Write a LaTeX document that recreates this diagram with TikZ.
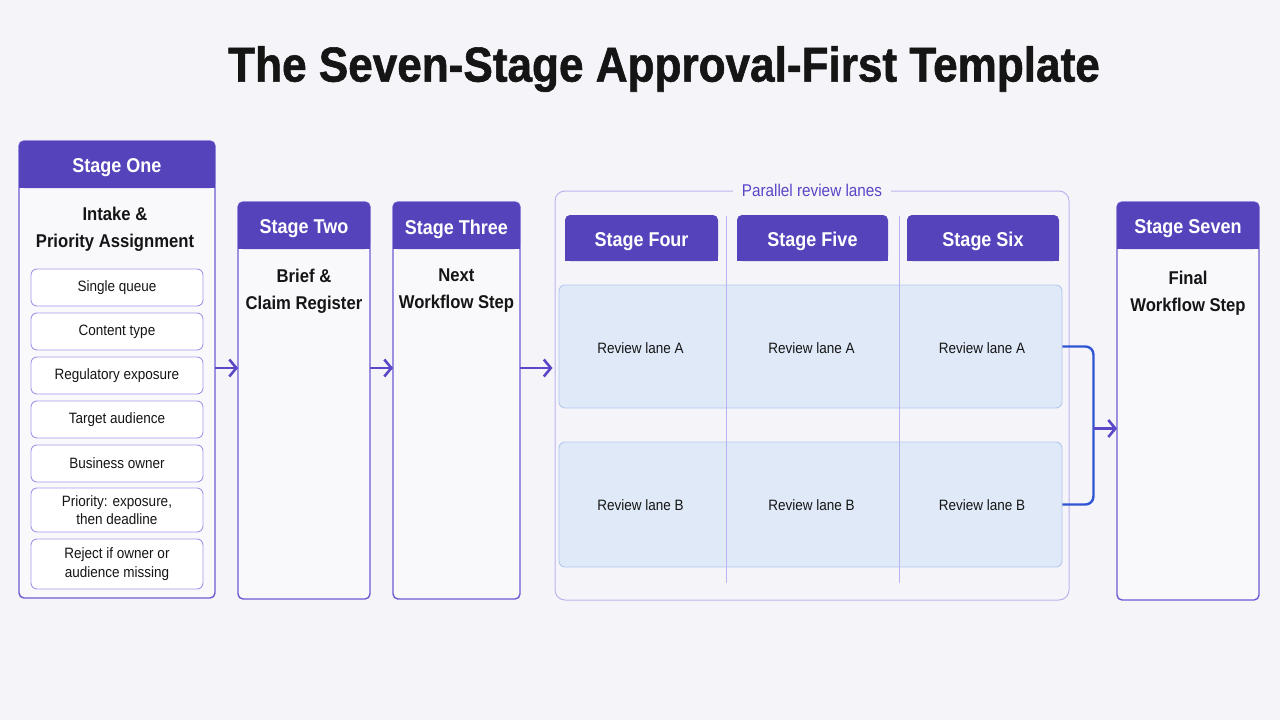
\documentclass[tikz,border=0pt]{standalone}
\usepackage{fontspec}
\setmainfont{Liberation Sans}[FakeStretch=0.9]
\newfontfamily\titlefont{Liberation Sans}[FakeStretch=0.9, FakeBold=1.2]
\usetikzlibrary{arrows.meta,calc,positioning}
\definecolor{pagebg}{HTML}{F5F5F9}
\definecolor{boxfill}{HTML}{F9F9FC}
\definecolor{headfill}{HTML}{5443BB}
\definecolor{boxline}{HTML}{6B5BD2}
\definecolor{itemline}{HTML}{A398EA}
\definecolor{parline}{HTML}{BDB4EE}
\definecolor{lanefill}{HTML}{DFE9F8}
\definecolor{laneline}{HTML}{B4C8EE}
\definecolor{divline}{HTML}{B9B4F0}
\definecolor{arrowc}{HTML}{5A48C8}
\definecolor{mergec}{HTML}{2F55D4}
\definecolor{labelc}{HTML}{5A45C8}
\definecolor{inkc}{HTML}{151515}
\tikzset{%
	heading/.style  = {text=inkc, font=\fontsize{49}{56}\titlefont\bfseries},
	stage/.style    = {draw=boxline, fill=boxfill, line width=1.4pt, rounded corners=5pt, inner sep=0pt, outer sep=0pt},
	headbox/.style  = {fill=headfill, rounded corners=5pt, inner sep=0pt, outer sep=0pt},
	headtext/.style = {text=white, inner sep=0pt, yshift=-3.5pt, font=\fontsize{20}{24}\selectfont\bfseries},
	boxtitle/.style = {text=inkc, align=center, font=\fontsize{18.5}{27}\selectfont\bfseries},
	item/.style     = {draw=itemline, fill=white, line width=0.9pt, rounded corners=6pt, minimum width=172, inner sep=0pt, align=center, text=inkc, font=\fontsize{15}{18.5}\selectfont},
	lanebox/.style  = {draw=parline, line width=1pt, rounded corners=10pt, inner sep=0pt},
	lanelabel/.style= {fill=pagebg, text=labelc, inner xsep=9pt, font=\fontsize{17}{20}\selectfont},
	lane/.style     = {draw=laneline, fill=lanefill, line width=0.9pt, rounded corners=6pt, inner sep=0pt},
	lanetext/.style = {text=inkc, font=\fontsize{15}{18}\selectfont},
	divider/.style  = {draw=divline, line width=0.7pt},
	flow/.style     = {draw=arrowc, line width=2.6pt, -{Straight Barb[length=7pt,width=17pt]}},
	merge/.style    = {draw=mergec, line width=2.4pt, rounded corners=8pt},
}
\begin{document}
\begin{tikzpicture}[x=1pt,y=-1pt]
	\fill[pagebg] (0,0) rectangle (1280,720);
	\useasboundingbox (0,0) rectangle (1280,720);
	
	\node[heading] (title) at (664,69) {The Seven-Stage Approval-First Template};
	
	% outer stage boxes
	\node[stage, minimum width=196, minimum height=457] (s1) at (117,369.5) {};
	\node[stage, minimum width=132, minimum height=397] (s2) at (304,400.5) {};
	\node[stage, minimum width=127, minimum height=397] (s3) at (456.5,400.5) {};
	\node[stage, minimum width=142, minimum height=398] (s7) at (1188,401) {};
	\foreach \s/\w/\txt in {s1/196/Stage One, s2/132/Stage Two, s3/127/Stage Three, s7/142/Stage Seven} {
		\node[headbox, minimum width=\w, minimum height=47, anchor=north] (\s-head) at (\s.north) {};
		\fill[headfill] (\s-head.west) rectangle (\s-head.south east);
		\node[headtext] (\s-lbl) at (\s-head) {\txt};
	}
	
	\node[boxtitle] (t1) at (115,229) {Intake \&\\Priority Assignment};
	\node[boxtitle] (t2) at (304,291) {Brief \&\\Claim Register};
	\node[boxtitle] (t3) at (456.5,291) {Next\\Workflow Step};
	\node[boxtitle] (t7) at (1188,293.5) {Final\\Workflow Step};
	
	% intake checklist
	\foreach \n/\y/\h/\txt in {1/287.5/37/Single queue, 2/331.5/37/Content type, 3/375.5/37/Regulatory exposure, 4/419.5/37/Target audience, 5/463.5/37/Business owner, 6/510/44/{Priority: exposure,\\then deadline}, 7/564/50/{Reject if owner or\\audience missing}}
		\node[item, minimum height=\h] (i\n) at (117,\y) {\txt};
	
	% parallel lanes
	\node[lanebox, minimum width=514, minimum height=409] (par) at (812,395.5) {};
	\node[lanelabel] (parlabel) at (par.north) {Parallel review lanes};
	\node[lane, minimum width=503, minimum height=123] (laneA) at (810.5,346.5) {};
	\node[lane, minimum width=503, minimum height=125] (laneB) at (810.5,504.5) {};
	\draw[divider] (726,216) -- (726,583);
	\draw[divider] (899,216) -- (899,583);
	\foreach \n/\x/\w/\txt in {4/641.5/153/Stage Four, 5/812.5/151/Stage Five, 6/983/152/Stage Six} {
		\node[headbox, minimum width=\w, minimum height=46] (s\n-head) at (\x,238) {};
		\fill[headfill] (s\n-head.west) rectangle (s\n-head.south east);
		\node[headtext] (s\n-lbl) at (s\n-head) {\txt};
		\node[lanetext] (a\n) at (\x-1,348) {Review lane A};
		\node[lanetext] (b\n) at (\x-1,505) {Review lane B};
	}
	
	% connectors
	\coordinate (row) at (0,368);
	\draw[flow] (s1.east |- row) -- (s2.west |- row);
	\draw[flow] (s2.east |- row) -- (s3.west |- row);
	\draw[flow] (s3.east |- row) -- ([xshift=-2pt]par.west |- row);
	\draw[merge] (laneA.east) -- ++(31,0) |- (laneB.east);
	\coordinate (join) at ($(laneA.east)!0.5!(laneB.east)+(31,3)$);
	\draw[flow] (join) -- (s7.west |- join);
\end{tikzpicture}
\end{document}
